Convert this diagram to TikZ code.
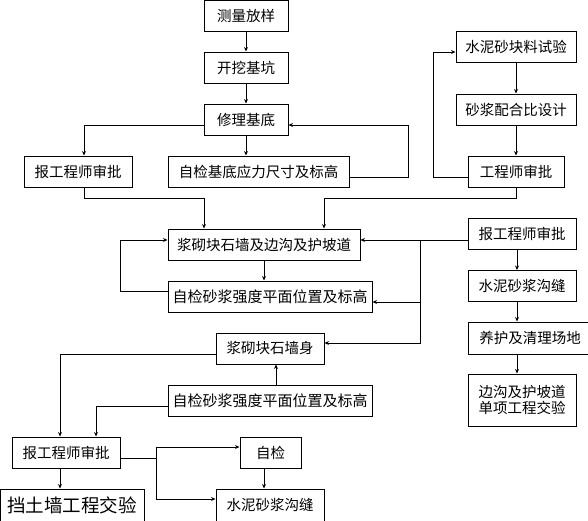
\documentclass[tikz,border=0pt]{standalone}
\usepackage{fontspec}
\newfontfamily\cjk{Noto Sans CJK SC}
\usetikzlibrary{arrows.meta,calc}
\begin{document}
\begin{tikzpicture}[x=1pt,y=-1pt,
  box/.style={draw,line width=1pt,inner sep=0pt,anchor=center,align=center,
    font=\cjk\fontsize{14.5}{16}\selectfont},
  bigtxt/.style={font=\cjk\fontsize{18.5}{20}\selectfont},
  midtxt/.style={font=\cjk\fontsize{15}{16}\selectfont},
  arr/.style={line width=1pt,-{Stealth[length=4.5pt,width=4pt]}},
  ln/.style={line width=1pt}]
\useasboundingbox (0,0) rectangle (588,520);
\clip (0,0) rectangle (588,520);
% nodes
\node[box,minimum width=84pt,minimum height=31pt] (n1) at (246,15.5) {测量放样};
\node[box,minimum width=84pt,minimum height=31pt] (n2) at (246,67.5) {开挖基坑};
\node[box,minimum width=84pt,minimum height=31pt] (n3) at (246,119.5) {修理基底};
\node[box,minimum width=108pt,minimum height=31pt] (n4) at (78,171.5) {报工程师审批};
\node[box,minimum width=181pt,minimum height=31pt] (n5) at (258.5,171.5) {自检基底应力尺寸及标高};
\node[box,minimum width=120pt,minimum height=31pt] (n6) at (516,46.5) {水泥砂块料试验};
\node[box,minimum width=120pt,minimum height=31pt] (n7) at (516,109.5) {砂浆配合比设计};
\node[box,minimum width=96pt,minimum height=31pt] (n8) at (516,171.5) {工程师审批};
\node[box,minimum width=192pt,minimum height=31pt] (n9) at (264,244.5) {浆砌块石墙及边沟及护坡道};
\node[box,midtxt,minimum width=204pt,minimum height=31pt] (n10) at (270,296.5) {自检砂浆强度平面位置及标高};
\node[box,minimum width=108pt,minimum height=31pt] (n11) at (270,348.5) {浆砌块石墙身};
\node[box,midtxt,minimum width=204pt,minimum height=31pt] (n12) at (270,400.5) {自检砂浆强度平面位置及标高};
\node[box,minimum width=108pt,minimum height=31pt] (n13) at (522,233.5) {报工程师审批};
\node[box,minimum width=108pt,minimum height=31pt] (n14) at (522,286) {水泥砂浆沟缝};
\node[box,minimum width=124pt,minimum height=32pt] (n15) at (530,338) {养护及清理场地};
\node[box,minimum width=108pt,minimum height=52pt] (n16) at (522,400) {边沟及护坡道\\单项工程交验};
\node[box,minimum width=108pt,minimum height=31pt] (n17) at (66,452.5) {报工程师审批};
\node[box,bigtxt,minimum width=144pt,minimum height=32pt] (n18) at (72,505) {挡土墙工程交验};
\node[box,minimum width=61pt,minimum height=31pt] (n19) at (270.5,452.5) {自检};
\node[box,minimum width=108pt,minimum height=32pt] (n20) at (270,505) {水泥砂浆沟缝};
% bend coordinates
\coordinate (a1) at (84,125);
\coordinate (a2) at (408,177);
\coordinate (a3) at (408,125);
\coordinate (q1) at (433,177);
\coordinate (q2) at (433,52);
\coordinate (j1) at (324,198);
\coordinate (j2) at (84,198);
\coordinate (j3) at (204,198);
\coordinate (k1) at (120,291);
\coordinate (k2) at (120,240);
\coordinate (m1) at (420,240);
\coordinate (m2) at (420,302);
\coordinate (m3) at (420,343);
\coordinate (v) at (517,0);
\coordinate (w) at (276,0);
\coordinate (s1) at (60,354);
\coordinate (s2) at (96,406);
\coordinate (t0) at (156,458);
\coordinate (t1) at (156,447);
\coordinate (t2) at (156,499);
\coordinate (u) at (264,0);
% connectors
\draw[arr] (n1) -- (n2);
\draw[arr] (n2) -- (n3);
\draw[arr] (n3.west |- a1) -- (a1) -- (n4.north -| a1);
\draw[arr] (n3) -- (n3 |- n5.north);
\draw[arr] (n5.east |- a2) -- (a2) -- (a3) -- (n3.east |- a3);
\draw[arr] (n6) -- (n7);
\draw[arr] (n7) -- (n8);
\draw[arr] (n8.west |- q1) -- (q1) -- (q2) -- (n6.west |- q2);
\draw[arr] (n8.south) |- (j1) -- (n9.north -| j1);
\draw[arr] (n4.south -| j2) -- (j2) -- (j3) -- (n9.north -| j3);
\draw[arr] (n9) -- (n9 |- n10.north);
\draw[arr] (n10.west |- k1) -- (k1) -- (k2) -- (n9.west |- k2);
\draw[arr] (n13.west |- m1) -- (n9.east |- m1);
\draw[arr] (m1) -- (m3) -- (n11.east |- m3);
\draw[arr] (m2) -- (n10.east |- m2);
\draw[arr] (n13.south -| v) -- (n14.north -| v);
\draw[arr] (n14.south -| v) -- (n15.north -| v);
\draw[arr] (n15.south -| v) -- (n16.north -| v);
\draw[arr] (n12.north -| w) -- (n11.south -| w);
\draw[arr] (n11.west |- s1) -- (s1) -- (n17.north -| s1);
\draw[arr] (n12.west |- s2) -- (s2) -- (n17.north -| s2);
\draw[arr] (n17.south -| s1) -- (n18.north -| s1);
\draw[ln] (n17.east |- t0) -- (t0);
\draw[arr] (t0) -- (t1) -- (n19.west |- t1);
\draw[arr] (t0) -- (t2) -- (n20.west |- t2);
\draw[arr] (n19.south -| u) -- (n20.north -| u);
\end{tikzpicture}
\end{document}
